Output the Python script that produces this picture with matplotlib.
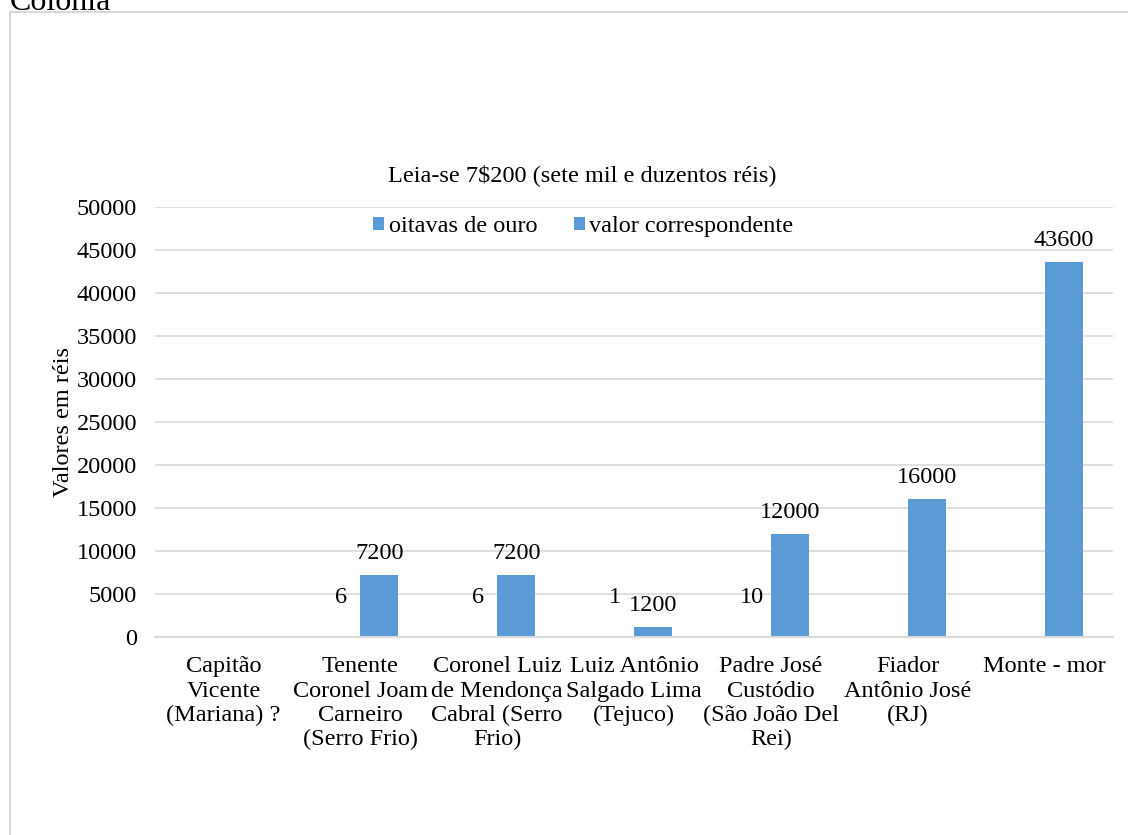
import numpy as np
import matplotlib.pyplot as plt
from matplotlib.patches import Rectangle

plt.rcParams['font.family'] = ['Liberation Serif', 'DejaVu Serif']

categorias = [
    "Capitão\nVicente\n(Mariana) ?",
    "Tenente\nCoronel Joam\nCarneiro\n(Serro Frio)",
    "Coronel Luiz\nde Mendonça\nCabral (Serro\nFrio)",
    "Luiz Antônio\nSalgado Lima\n(Tejuco)",
    "Padre José\nCustódio\n(São João Del\nRei)",
    "Fiador\nAntônio José\n(RJ)",
    "Monte - mor",
]
oitavas = [np.nan, 6, 6, 1, 10, np.nan, np.nan]
valores = [np.nan, 7200, 7200, 1200, 12000, 16000, 43600]
yticks = list(range(0, 50001, 5000))

azul = '#5b9bd5'
grade = '#d9d9d9'
fs = 17.5

fig = plt.figure(figsize=(11.28, 8.35), dpi=100)
ax = fig.add_axes([155 / 1128, 1 - 637 / 835, (1113 - 155) / 1128, (637 - 207) / 835])

x = np.arange(len(categorias))
w = 0.278
ax.bar(x - w / 2, oitavas, w, color=azul, label='oitavas de ouro')
ax.bar(x + w / 2, valores, w, color=azul, label='valor correspondente')

# rótulos de dados
for xi, v in zip(x, oitavas):
    if not np.isnan(v):
        ax.annotate(f"{v:g}", (xi - w / 2, v), xytext=(0, 21), textcoords='offset points',
                    ha='center', va='bottom', fontsize=fs)
for xi, v in zip(x, valores):
    if not np.isnan(v):
        ax.annotate(f"{v:g}", (xi + w / 2, v), xytext=(0, 8), textcoords='offset points',
                    ha='center', va='bottom', fontsize=fs)

ax.set_xlim(-0.5, len(categorias) - 0.5)
ax.set_ylim(0, 50000)
ax.set_yticks(yticks)
ax.set_yticklabels([str(t) for t in yticks], fontsize=fs)
ax.set_xticks(x)
ax.set_xticklabels(categorias, fontsize=fs, linespacing=1.2, va='top')
ax.tick_params(axis='y', length=0, pad=13)
ax.tick_params(axis='x', length=0, pad=14)
ax.grid(axis='y', color=grade, linewidth=1.2)
ax.set_axisbelow(True)
for s in ['top', 'right', 'left']:
    ax.spines[s].set_visible(False)
ax.spines['bottom'].set_color(grade)
ax.spines['bottom'].set_linewidth(1.5)
ax.set_ylabel('Valores em réis', fontsize=fs, labelpad=2)

ax.legend(loc='upper center', bbox_to_anchor=(0.447, 1.03), ncol=2, frameon=False,
          fontsize=fs, handlelength=0.45, handleheight=0.45, handletextpad=0.2,
          columnspacing=1.5)

fig.text(582 / 1128, 1 - 175 / 835, 'Leia-se 7$200 (sete mil e duzentos réis)',
         ha='center', va='center', fontsize=fs)

# moldura do gráfico e texto cortado no topo
fig.patches.append(Rectangle((10 / 1128, -0.1), 1.2, 1 - 12 / 835 + 0.1,
                             transform=fig.transFigure, fill=False,
                             edgecolor=grade, linewidth=1.5))
fig.text(10 / 1128, 1 - 10 / 835, 'Colônia', ha='left', va='baseline', fontsize=23)

fig.savefig('out.png', dpi=100)
